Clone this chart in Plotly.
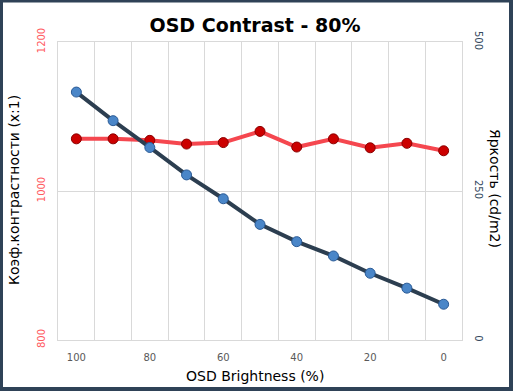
import plotly.graph_objects as go

brightness_pct = [100, 90, 80, 70, 60, 50, 40, 30, 20, 10, 0]
contrast = [1070, 1070, 1068, 1063, 1065, 1080, 1059, 1070, 1058, 1064, 1054]
luminance = [416, 368, 323, 277, 237, 194, 165, 141, 112, 87, 60]

x_ticks = [100, 80, 60, 40, 20, 0]
x_grid = [105, 95, 85, 75, 65, 55, 45, 35, 25, 15, 5, -5]
left_ticks = [800, 1000, 1200]
right_ticks = [0, 250, 500]

W, H = 513, 391
L, R, T, B = 58, 462, 42, 340

def px(x):
    return (x - L) / (R - L)

def py(y):
    return (B - y) / (B - T)

FONT = "DejaVu Sans"
GRID = "#d9d9d9"

fig = go.Figure()
fig.add_trace(go.Scatter(
    x=brightness_pct, y=contrast, mode="lines+markers", yaxis="y",
    line=dict(color="#f5474f", width=4),
    marker=dict(size=10, color="#cc0000", line=dict(color="#8a0000", width=1)),
    showlegend=False, name="contrast"))
fig.add_trace(go.Scatter(
    x=brightness_pct, y=luminance, mode="lines+markers", yaxis="y2",
    line=dict(color="#2c3e50", width=4),
    marker=dict(size=10, color="#4a86c8", line=dict(color="#2a5a95", width=1)),
    showlegend=False, name="luminance"))

shapes = []
bc = "#2f4257"
for (x0, x1, y0, y1) in [(0, 3, 0, H), (W - 4, W, 0, H), (0, W, 0, 2.5), (0, W, H - 4, H)]:
    shapes.append(dict(type="rect", xref="paper", yref="paper",
                       x0=px(x0), x1=px(x1), y0=py(y1), y1=py(y0),
                       fillcolor=bc, line=dict(width=0), layer="above"))

fig.update_layout(
    width=W, height=H,
    margin=dict(l=L, r=W - R, t=T, b=H - B, pad=0),
    paper_bgcolor="white", plot_bgcolor="white",
    title=dict(text="<b>OSD Contrast - 80%</b>", x=255 / W, xanchor="center",
               y=1 - 25 / H, yanchor="middle",
               font=dict(family=FONT, size=19, color="black")),
    xaxis=dict(range=[105, -5], tickmode="array", tickvals=x_ticks,
               ticktext=[str(v) for v in x_ticks], showgrid=False,
               tickfont=dict(family=FONT, size=10, color="#595959"),
               ticks="outside", ticklen=8, tickcolor="rgba(0,0,0,0)", zeroline=False,
               minor=dict(tickmode="array", tickvals=x_grid, showgrid=True,
                          gridcolor=GRID, gridwidth=1, ticks=""),
               showline=True, linecolor=GRID, mirror=True),
    yaxis=dict(range=[800, 1200], tickmode="array", tickvals=left_ticks,
               tickangle=-90, showgrid=True, gridcolor=GRID, zeroline=False,
               tickfont=dict(family=FONT, size=10, color="#ff5a5f"),
               ticks="outside", ticklen=8, tickcolor="rgba(0,0,0,0)",
               showline=True, linecolor=GRID, mirror=True),
    yaxis2=dict(range=[0, 500], tickmode="array", tickvals=right_ticks,
                tickangle=90, overlaying="y", side="right", showgrid=False,
                zeroline=False,
                tickfont=dict(family=FONT, size=10, color="#34495e"),
                ticks="outside", ticklen=8, tickcolor="rgba(0,0,0,0)"),
    shapes=shapes,
    annotations=[
        dict(text="Коэф.контрастности (x:1)", xref="paper", yref="paper",
             x=px(14), y=py(190), textangle=-90, showarrow=False,
             xanchor="center", yanchor="middle",
             font=dict(family=FONT, size=14, color="black")),
        dict(text="Яркость (cd/m2)", xref="paper", yref="paper",
             x=px(495), y=py(188), textangle=90, showarrow=False,
             xanchor="center", yanchor="middle",
             font=dict(family=FONT, size=14, color="black")),
        dict(text="OSD Brightness (%)", xref="paper", yref="paper",
             x=px(255), y=py(376), showarrow=False,
             xanchor="center", yanchor="middle",
             font=dict(family=FONT, size=14, color="black")),
    ],
)

fig.write_html("out.html", config={"displayModeBar": False},
               post_script="document.body.style.margin='0';document.body.style.overflow='hidden';")
